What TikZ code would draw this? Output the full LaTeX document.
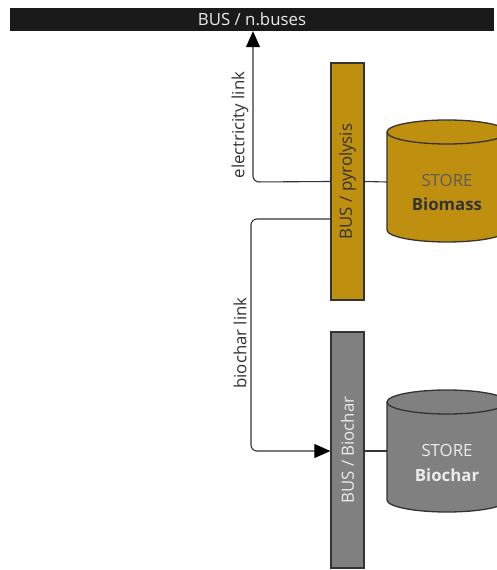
\documentclass[tikz,border=0pt]{standalone}
\usepackage{fontspec}
\setmainfont{Open Sans}
\usetikzlibrary{arrows.meta}
\definecolor{gold}{HTML}{BF8F0F}
\definecolor{busgray}{HTML}{808080}
\definecolor{barblack}{HTML}{1A1A1A}
\definecolor{linegray}{HTML}{333333}
\newcommand{\txtsize}{\fontsize{16.8}{19}\selectfont}
\begin{document}
\begin{tikzpicture}[x=1pt,y=1pt,
  lbl/.style={font=\txtsize, inner sep=0pt},
  bus/.style={draw=linegray, line width=1.3pt, minimum width=33pt, inner sep=0pt},
  link/.style={draw=linegray, line width=1.1pt, rounded corners=6pt},
  tip/.style={-{Triangle[width=14pt,length=16pt,color=black,fill=black]}},
  cyl/.style={draw=linegray, line width=1.3pt}]
\useasboundingbox (0,0) rectangle (497,570);
\clip (0,0) rectangle (497,570);

% top bus bar
\node[fill=barblack, minimum width=484pt, minimum height=23pt, inner sep=0pt,
      text=white!92!black, lbl] (top) at (252,550.5) {BUS / n.buses};

% vertical buses
\node[bus, fill=gold, minimum height=237pt] (pyro) at (347.5,388.5)
  {\rotatebox{90}{\txtsize\color{linegray}BUS / pyrolysis}};
\node[bus, fill=busgray, minimum height=236pt] (bchar) at (347.5,120)
  {\rotatebox{90}{\txtsize\color{white!92!black}BUS / Biochar}};

% stores (cylinders)
\path[cyl, fill=gold] (387,438) -- (387,340) arc (180:360:60 and 12)
  -- (507,438) arc (0:180:60 and 12) -- cycle;
\draw[cyl] (387,438) arc (180:360:60 and 12);
\coordinate (biomassW) at (387,388);
\node[lbl, text=linegray!80!white] (biomassA) at (447,390) {STORE};
\node[lbl, text=linegray, font=\txtsize\bfseries] (biomassB) at (447,366) {Biomass};

\path[cyl, fill=busgray] (387,168) -- (387,70) arc (180:360:60 and 12)
  -- (507,168) arc (0:180:60 and 12) -- cycle;
\draw[cyl] (387,168) arc (180:360:60 and 12);
\coordinate (biocharW) at (387,119);
\node[lbl, text=white!92!black] (biocharA) at (447,120) {STORE};
\node[lbl, text=white!92!black, font=\txtsize\bfseries] (biocharB) at (447,95) {Biochar};

% connectors
\coordinate (elecC) at (253,388);
\draw[link, tip] (pyro.west) -- (elecC) -- (elecC |- top.south);
\draw[link] (pyro.east) -- (biomassW);
\coordinate (pyroOut) at (331,351);
\coordinate (bcTop) at (251,351);
\coordinate (bcBot) at (251,119);
\draw[link, tip] (pyroOut) -- (bcTop) -- (bcBot) -- (bcBot -| bchar.west);
\draw[link] (bchar.east |- biocharW) -- (biocharW);

% link labels
\node[lbl, rotate=90, text=linegray] (elecLbl) at (240,445) {electricity link};
\node[lbl, rotate=90, text=linegray] (bcLbl) at (240,227) {biochar link};
\end{tikzpicture}
\end{document}
